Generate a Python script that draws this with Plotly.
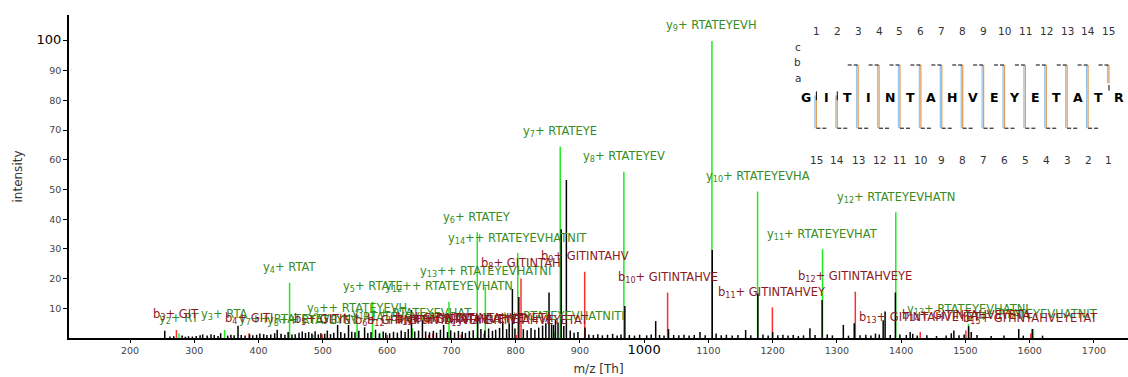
import plotly.graph_objects as go

FONT = "DejaVu Sans"
sequence = "GITINTAHVEYETATR"

# ---------------- unannotated (black) peaks ----------------
peak_mz = [254, 262, 268, 281, 286, 291, 297,
           303, 309, 313, 320, 326, 331, 337, 341, 352, 357, 362, 368, 373, 379, 386, 391, 397,
           402, 408, 413, 419, 425, 429, 435, 441, 446, 452, 457, 463, 468, 473, 478, 483, 488, 493, 497,
           503, 507, 512, 517, 523, 528, 534, 540, 545, 550, 556, 565, 570, 575, 582, 588, 594, 598,
           604, 610, 616, 622, 628, 633, 638, 643, 649, 655, 660, 666, 672, 677, 683, 688, 694, 699,
           705, 711, 717, 722, 728, 734, 741, 746, 752, 758, 764, 769, 775, 780, 786, 790, 795, 799,
           805, 812, 818, 824, 830, 836, 842, 847, 852, 856, 859, 862, 866, 871, 875, 879, 885, 891, 897,
           908, 914, 921, 928, 935, 943, 951, 958, 964, 970, 977, 985, 993,
           1004, 1011, 1018, 1024, 1031, 1038, 1046, 1054, 1062, 1070, 1078, 1087, 1095,
           1106, 1112, 1120, 1128, 1137, 1146, 1158, 1166, 1177, 1185, 1193, 1200,
           1208, 1216, 1224, 1232, 1240, 1248, 1258, 1266, 1277, 1285, 1293,
           1310, 1318, 1327, 1336, 1345, 1353, 1360, 1366, 1372, 1375, 1383, 1391, 1398,
           1408, 1414, 1418, 1425, 1440, 1455, 1470, 1478, 1482, 1490, 1498,
           1505, 1509, 1518, 1540, 1560, 1583, 1590, 1604, 1620]
peak_int = [2.4, 0.5, 0.6, 0.8, 0.4, 0.6, 0.5,
            0.7, 0.9, 1.2, 0.8, 1.3, 1.0, 0.7, 1.6, 0.8, 1.1, 0.9, 4.1, 1.0, 0.8, 1.2, 0.9, 1.1,
            1.5, 1.3, 1.0, 1.2, 1.6, 2.8, 1.4, 1.1, 2.0, 1.2, 1.3, 1.8, 2.2, 1.7, 2.0, 1.5, 2.3, 1.2, 1.6,
            1.4, 2.5, 1.3, 1.8, 4.4, 2.0, 1.6, 4.4, 2.1, 1.9, 2.4, 3.6, 1.7, 2.0, 2.8, 1.5, 2.2, 1.8,
            1.6, 2.1, 1.8, 2.5, 2.0, 3.0, 9.4, 2.2, 2.5, 6.0, 2.2, 1.9, 2.4, 1.8, 2.8, 4.4, 2.0, 2.6,
            1.9, 2.4, 2.1, 1.7, 2.3, 2.6, 7.7, 3.0, 2.5, 3.2, 2.4, 2.8, 3.4, 5.6, 3.0, 5.0, 16.5, 3.2,
            13.8, 3.0, 2.6, 3.4, 2.8, 3.5, 4.2, 5.0, 15.3, 4.6, 4.4, 6.0, 5.2, 36.6, 4.0, 53.2, 2.5, 1.8, 2.0,
            3.5, 1.2, 1.0, 1.3, 0.9, 1.1, 1.4, 0.8, 1.2, 10.8, 1.0, 0.8, 1.1,
            0.9, 1.2, 5.7, 1.0, 0.8, 3.0, 1.0, 0.9, 1.1, 0.8, 1.0, 2.0, 0.9,
            29.6, 1.5, 0.9, 1.1, 0.8, 1.0, 2.7, 0.9, 15.0, 1.2, 0.8, 2.0,
            0.9, 1.1, 0.8, 1.0, 0.7, 0.9, 3.3, 1.0, 12.8, 1.2, 0.9,
            4.4, 0.8, 5.0, 0.9, 1.1, 0.8, 1.5, 1.2, 6.0, 8.9, 1.0, 15.3, 1.2,
            1.0, 2.0, 1.4, 0.8, 0.9, 0.7, 0.8, 1.6, 2.5, 0.9, 1.2,
            4.0, 2.0, 1.0, 0.7, 0.8, 3.0, 0.8, 3.0, 0.8]

# ---------------- annotated y ions (green) ----------------
y_num = [2, 3, 4, 5, 6, 7, 8, 9, 10, 11, 12, 13, 14,
         7, 8, 9, 10, 11, 12, 13, 14, 15]
y_charge = [1] * 13 + [2] * 9
y_mz = [276.17, 347.21, 448.26, 577.30, 740.36, 869.41, 968.47, 1105.53, 1176.57, 1277.62, 1391.66, 1504.75, 1605.80,
        435.21, 484.74, 553.27, 588.79, 639.31, 696.33, 752.88, 803.40, 859.94]
y_int = [1.5, 2.7, 18.6, 12.2, 35.6, 64.4, 56.0, 100.0, 49.3, 29.9, 42.3, 4.7, 3.0,
         1.3, 1.0, 5.0, 1.8, 3.2, 12.2, 17.2, 28.6, 2.2]

# ---------------- annotated b ions (red) ----------------
b_num = [3, 4, 5, 6, 7, 8, 9, 10, 11, 12, 13, 14, 15,
         12, 13, 14, 15]
b_charge = [1] * 13 + [2] * 4
b_mz = [272.16, 385.24, 499.29, 600.33, 671.37, 808.43, 907.50, 1036.54, 1199.61, 1328.65, 1429.70, 1500.73, 1601.78,
        664.83, 715.35, 750.87, 801.39]
b_int = [2.7, 1.6, 1.2, 1.0, 1.5, 20.0, 22.3, 15.3, 10.3, 15.6, 2.0, 2.5, 1.5,
         1.0, 1.2, 1.4, 1.0]

y_ticks = [10, 20, 30, 40, 50, 60, 70, 80, 90, 100]
x_ticks = list(range(200, 1800, 100))

GREEN_LINE = "rgb(30,235,30)"
RED_LINE = "rgb(255,45,45)"
GREEN_TXT = "rgb(55,140,35)"
RED_TXT = "rgb(140,25,30)"


def stems(xs, ys):
    X, Y = [], []
    for x, y in zip(xs, ys):
        X += [x, x, None]
        Y += [0, y, None]
    return X, Y


fig = go.Figure()
for xs, ys, col in [(y_mz, y_int, GREEN_LINE), (b_mz, b_int, RED_LINE), (peak_mz, peak_int, "black")]:
    X, Y = stems(xs, ys)
    fig.add_trace(go.Scatter(x=X, y=Y, mode="lines", line=dict(color=col, width=1.5),
                             hoverinfo="skip", showlegend=False))

annotations = []
for n, c, mz, it in zip(y_num, y_charge, y_mz, y_int):
    txt = f"y<sub>{n}</sub>{'+' * c} {sequence[-n:][::-1]}"
    annotations.append(dict(x=mz, y=it, xref="x", yref="y", text=txt, showarrow=False,
                            yanchor="middle", yshift=15, font=dict(family=FONT, size=11.5, color=GREEN_TXT)))
for n, c, mz, it in zip(b_num, b_charge, b_mz, b_int):
    txt = f"b<sub>{n}</sub>{'+' * c} {sequence[:n]}"
    annotations.append(dict(x=mz, y=it, xref="x", yref="y", text=txt, showarrow=False,
                            yanchor="middle", yshift=15, font=dict(family=FONT, size=11.5, color=RED_TXT)))

# ---------------- sequence / fragment-coverage diagram (own axes) ----------------
LVL_NUM_TOP, LVL_C, LVL_B, LVL_A, LVL_SEQ, LVL_NUM_BOT = 4.1, 3.15, 2.2, 1.2, 0.0, -3.95
B_TOP, B_BOT, Y_TOP, Y_BOT = 2.0, -0.1, 0.1, -1.95
DASH = 0.5

n_res = len(sequence)
b_sites = sorted(set(n for n, c in zip(b_num, b_charge) if c == 1))
y_sites = sorted(set(n_res - n for n in y_num))

for i, aa in enumerate(sequence, start=1):
    annotations.append(dict(x=i, y=LVL_SEQ, xref="x2", yref="y2", text=f"<b>{aa}</b>", showarrow=False,
                            font=dict(family=FONT, size=12.5, color="black")))
for k in range(1, n_res):
    annotations.append(dict(x=k + 0.5, y=LVL_NUM_TOP, xref="x2", yref="y2", text=str(k), showarrow=False,
                            font=dict(family=FONT, size=10.5, color="#333")))
    annotations.append(dict(x=k + 0.5, y=LVL_NUM_BOT, xref="x2", yref="y2", text=str(n_res - k), showarrow=False,
                            font=dict(family=FONT, size=10.5, color="#333")))
for lbl, lv in [("c", LVL_C), ("b", LVL_B), ("a", LVL_A)]:
    annotations.append(dict(x=0.6, y=lv, xref="x2", yref="y2", text=lbl, showarrow=False,
                            font=dict(family=FONT, size=10.5, color="#333")))

vx_blue, vy_blue, vx_or, vy_or, dx, dy, tx, ty = [], [], [], [], [], [], [], []
for k in range(1, n_res):
    xk = k + 0.5
    has_b, has_y = k in b_sites, k in y_sites
    if not (has_b or has_y):
        continue
    top = B_TOP if has_b else Y_TOP
    bot = Y_BOT if has_y else B_BOT
    if not has_b:
        tx += [xk, xk, None]; ty += [0.35, -0.2, None]
    if not has_y:
        tx += [xk, xk, None]; ty += [0.75, 0.4, None]
        bot = 0.85
    vx_blue += [xk - 0.07, xk - 0.07, None]; vy_blue += [top, bot, None]
    vx_or += [xk, xk, None]; vy_or += [top, bot, None]
    if has_b:
        dx += [xk - DASH, xk, None]; dy += [B_TOP, B_TOP, None]
    if has_y:
        dx += [xk, xk + DASH, None]; dy += [Y_BOT, Y_BOT, None]

for X, Y, col, w, dash in [(vx_blue, vy_blue, "rgb(150,195,240)", 1.3, "solid"),
                           (vx_or, vy_or, "rgb(225,160,90)", 1.3, "solid"),
                           (dx, dy, "black", 1, "4px,2px"),
                           (tx, ty, "black", 1, "solid")]:
    fig.add_trace(go.Scatter(x=X, y=Y, xaxis="x2", yaxis="y2", mode="lines",
                             line=dict(color=col, width=w, dash=dash),
                             hoverinfo="skip", showlegend=False))

y_ticktext = [str(v) if v != 100 else '<span style="font-size:13px;color:black">100</span>' for v in y_ticks]
x_ticktext = [str(v) if v != 1000 else '<span style="font-size:13px;color:black">1000</span>' for v in x_ticks]

fig.update_layout(
    width=1128, height=377,
    margin=dict(l=69, r=0, t=15, b=39),
    paper_bgcolor="white", plot_bgcolor="white",
    font=dict(family=FONT, color="#333"),
    annotations=annotations,
    xaxis=dict(range=[105, 1753], showgrid=False, zeroline=False, showline=True, linecolor="black",
               linewidth=1.5, ticks="outside", ticklen=3, tickcolor="black", automargin=False,
               tickvals=x_ticks, ticktext=x_ticktext, tickfont=dict(family=FONT, size=9.5, color="#444"),
               title=dict(text="m/z [Th]", font=dict(family=FONT, size=12, color="#333"), standoff=8)),
    yaxis=dict(range=[0, 108.75], showgrid=False, zeroline=False, showline=True, linecolor="black",
               linewidth=1.5, ticks="outside", ticklen=4, tickcolor="black", automargin=False,
               tickvals=y_ticks, ticktext=y_ticktext, tickfont=dict(family=FONT, size=9.5, color="#444"),
               title=dict(text="intensity", font=dict(family=FONT, size=12, color="#333"), standoff=11)),
    xaxis2=dict(overlaying="x", anchor="y2", range=[-34.26, 16.41], visible=False, fixedrange=True,
                automargin=False),
    yaxis2=dict(overlaying="y", anchor="x2", range=[-15.06, 5.125], visible=False, fixedrange=True,
                automargin=False),
)

fig.write_html("out.html", config={"displayModeBar": False},
               post_script="document.body.style.margin='0px';document.body.style.overflow='hidden';")
